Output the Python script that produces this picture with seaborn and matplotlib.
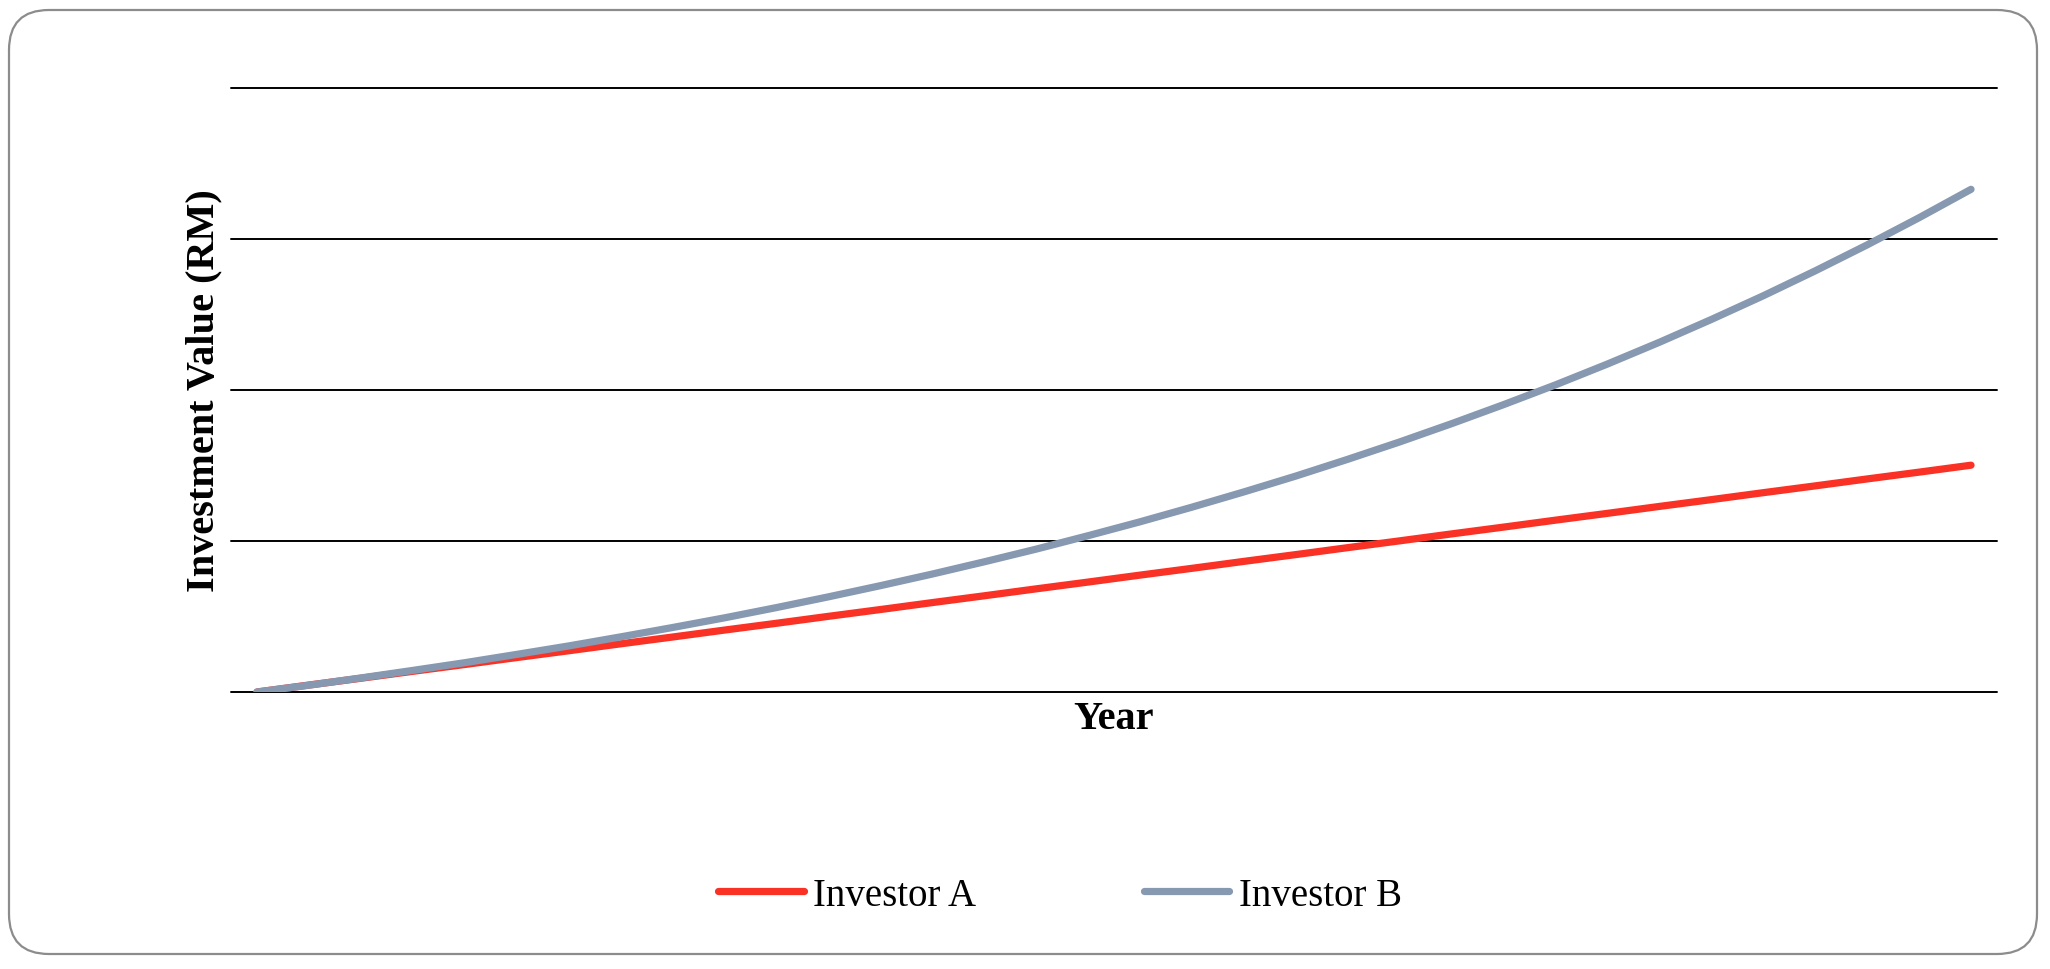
import matplotlib
matplotlib.use("Agg")
import matplotlib.pyplot as plt
import seaborn as sns
import pandas as pd
from matplotlib.patches import FancyBboxPatch
from matplotlib.transforms import IdentityTransform

# ---- data ----
years = list(range(0, 34))
investor_a = [1000, 1046, 1091, 1137, 1182, 1228, 1273, 1319, 1364, 1410,
              1455, 1501, 1546, 1592, 1637, 1683, 1728, 1774, 1819, 1865,
              1910, 1956, 2001, 2047, 2092, 2138, 2183, 2229, 2274, 2320,
              2365, 2411, 2456, 2502]
investor_b = [1000, 1045, 1093, 1143, 1194, 1249, 1305, 1365, 1427, 1491,
              1559, 1630, 1704, 1781, 1862, 1946, 2035, 2127, 2224, 2325,
              2430, 2541, 2656, 2777, 2903, 3034, 3172, 3316, 3467, 3624,
              3789, 3961, 4141, 4329]
series_names = ["Investor A", "Investor B"]
y_ticks = [1000, 2000, 3000, 4000, 5000]
x_label = "Year"
y_label = "Investment Value (RM)"

df = pd.DataFrame({
    "Year": years * 2,
    "Value": investor_a + investor_b,
    "Series": [series_names[0]] * len(years) + [series_names[1]] * len(years),
})

sns.set_theme(style="white")
plt.rcParams["font.family"] = ["Liberation Serif", "DejaVu Serif"]
plt.rcParams["text.color"] = "black"
plt.rcParams["axes.labelcolor"] = "black"

W, H = 2050, 970
fig = plt.figure(figsize=(W / 100, H / 100), dpi=100)
fig.patch.set_facecolor("white")

# rounded border
border = FancyBboxPatch((9 + 40, 15 + 40), 2028 - 80, 944 - 80,
                        boxstyle="round,pad=40",
                        transform=IdentityTransform(),
                        facecolor="none", edgecolor="#8c8c8c", linewidth=1.6,
                        zorder=-1)
fig.patches.append(border)

ax = fig.add_axes([231 / W, 1 - 693 / H, 1766 / W, 604 / H])
ax.set_facecolor("none")

palette = {"Investor A": "#FA3226", "Investor B": "#8798B1"}
sns.lineplot(data=df, x="Year", y="Value", hue="Series", palette=palette,
             linewidth=5.2, ax=ax, legend=True)
for ln in ax.get_lines():
    ln.set_solid_capstyle("round")

ax.set_xlim(years[0] - 0.5, years[-1] + 0.5)
ax.set_ylim(y_ticks[0], y_ticks[-1])
ax.set_yticks(y_ticks)
ax.set_xticks([])
ax.tick_params(left=False, bottom=False, labelleft=False, labelbottom=False)
ax.yaxis.grid(True, color="black", linewidth=1.4)
ax.xaxis.grid(False)
ax.set_axisbelow(True)
for gl in ax.get_ygridlines():
    gl.set_clip_on(False)
for s in ax.spines.values():
    s.set_visible(False)

ax.set_xlabel(x_label, fontsize=29, fontweight="bold", labelpad=6)
ax.set_ylabel(y_label, fontsize=29, fontweight="bold", labelpad=12)
ax.yaxis.set_label_coords((222 - 231) / 1766, 0.5)

handles, labels = ax.get_legend_handles_labels()
ax.get_legend().remove()
for h in handles:
    h.set_solid_capstyle("round")
    h.set_linewidth(5.2)
fig.legend(handles, labels, loc="center", bbox_to_anchor=(1060 / W, 1 - 896 / H),
           ncol=2, frameon=False, fontsize=28, handlelength=2.2,
           handletextpad=0.25, columnspacing=4.3)

fig.savefig("out.png", dpi=100, facecolor="white")
